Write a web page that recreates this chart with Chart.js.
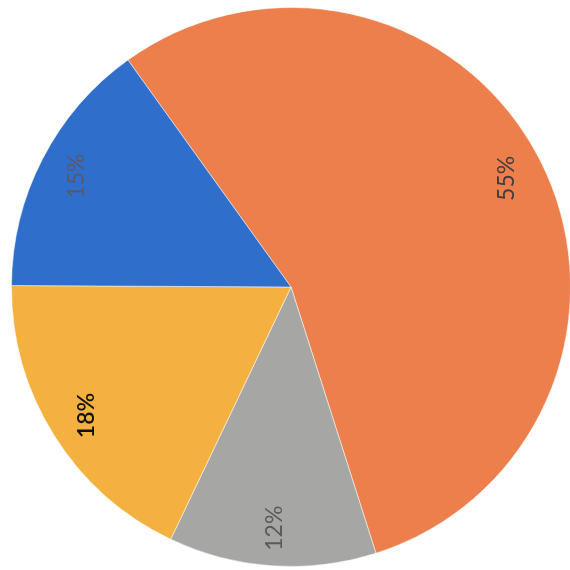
<!DOCTYPE html>
<html>
<head>
<meta charset="utf-8">
<script src="https://cdn.jsdelivr.net/npm/chart.js@4/dist/chart.umd.min.js"></script>
<style>
  html, body { margin: 0; padding: 0; background: #fff; overflow: hidden; width: 570px; height: 570px; }
  #wrap { position: absolute; left: 11px; top: 7px; width: 560px; height: 560px; }
</style>
</head>
<body>
<div id="wrap"><canvas id="grafico"></canvas></div>
<script>
const categorias = ['A', 'B', 'C', 'D'];
const valores = [55, 12, 18, 15];
const etiquetas = ['55%', '12%', '18%', '15%'];
const colores = ['#ED7F4D', '#A6A6A4', '#F4B13F', '#2F6ECB'];
const coloresTexto = ['#3d3d3d', '#5a5a5a', '#111111', 'rgba(110,80,70,0.75)'];

// texto girado -90 grados sobre cada porcion
const etiquetasGiradas = {
  id: 'etiquetasGiradas',
  afterDatasetsDraw(chart) {
    const ctx = chart.ctx;
    const meta = chart.getDatasetMeta(0);
    meta.data.forEach((arc, i) => {
      const mid = (arc.startAngle + arc.endAngle) / 2;
      const r = arc.outerRadius * 0.865;
      const x = arc.x + Math.cos(mid) * r;
      const y = arc.y + Math.sin(mid) * r;
      ctx.save();
      ctx.translate(x, y);
      ctx.rotate(-Math.PI / 2);
      ctx.font = (i === 2 ? '600 ' : '') + '23px Lato, "Open Sans", sans-serif';
      ctx.fillStyle = coloresTexto[i];
      ctx.textAlign = 'center';
      ctx.textBaseline = 'middle';
      ctx.fillText(etiquetas[i], 0, 0);
      ctx.restore();
    });
  }
};

new Chart(document.getElementById('grafico').getContext('2d'), {
  type: 'pie',
  data: {
    labels: categorias,
    datasets: [{
      data: valores,
      backgroundColor: colores,
      borderColor: 'rgba(255,255,255,0.5)',
      borderWidth: 1
    }]
  },
  options: {
    responsive: true,
    maintainAspectRatio: false,
    animation: false,
    rotation: -35.7,
    layout: { padding: 0 },
    plugins: {
      legend: { display: false },
      tooltip: { enabled: false },
      title: { display: false }
    }
  },
  plugins: [etiquetasGiradas]
});
</script>
</body>
</html>
